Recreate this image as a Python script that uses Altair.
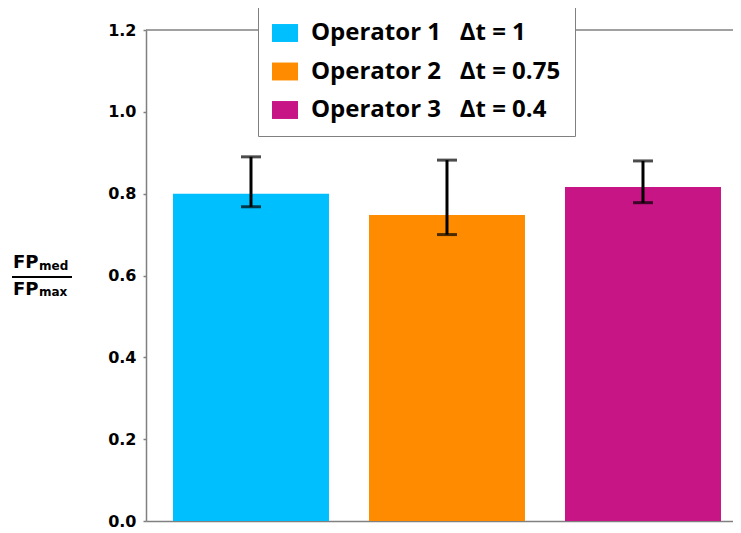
import altair as alt
import pandas as pd

operators = ["Operator 1", "Operator 2", "Operator 3"]
delta_t = ["1", "0.75", "0.4"]
means = [0.800, 0.748, 0.816]
err_low = [0.768, 0.700, 0.778]
err_high = [0.890, 0.882, 0.880]
colors = ["#00BFFF", "#FF8C00", "#C71585"]
y_ticks = [0.0, 0.2, 0.4, 0.6, 0.8, 1.0, 1.2]

NB = "\u00a0"
labels = [f"{o}{NB * 3}\u0394t = {d}" for o, d in zip(operators, delta_t)]
df = pd.DataFrame({"label": labels, "mean": means, "lo": err_low, "hi": err_high})

xenc = alt.X(
    "label:N",
    sort=labels,
    scale=alt.Scale(paddingInner=0.2041, paddingOuter=0.0995, align=0.692),
    axis=alt.Axis(labels=False, ticks=False, title=None, domainColor="#808080", domainWidth=1.5),
)
yscale = alt.Scale(domain=[0, 1.2], nice=False, zero=True)
yaxis = alt.Axis(
    values=y_ticks, format=".1f", title=None, grid=False, tickSize=3, labelPadding=7,
    labelFont="DejaVu Sans", labelFontWeight="bold", labelFontSize=16, labelColor="black",
    domainColor="#808080", tickColor="#808080", domainWidth=1.5, tickWidth=1.5,
)

base = alt.Chart(df)

bars = base.mark_bar().encode(
    x=xenc,
    y=alt.Y("mean:Q", scale=yscale, axis=yaxis),
    color=alt.Color(
        "label:N",
        sort=labels,
        scale=alt.Scale(domain=labels, range=colors),
        legend=alt.Legend(
            orient="none", legendX=112, legendY=-24, title=None,
            symbolType="M-1,-0.69H1V0.69H-1Z", symbolSize=676, symbolStrokeWidth=0,
            symbolOpacity=1, labelFont="Open Sans", labelFontWeight="bold",
            labelFontSize=24, labelColor="black", labelOffset=13, labelLimit=500,
            rowPadding=13.5, padding=14, strokeColor="#808080", fillColor="white",
        ),
    ),
)

err_rule = base.mark_rule(color="black", strokeWidth=3).encode(
    x=xenc, y=alt.Y("lo:Q", title=None), y2="hi:Q"
)
cap_hi = base.mark_tick(color="black", thickness=3, size=20).encode(
    x=xenc, y=alt.Y("hi:Q", title=None)
)
cap_lo = base.mark_tick(color="black", thickness=3, size=20).encode(
    x=xenc, y=alt.Y("lo:Q", title=None)
)

top_line = alt.Chart(pd.DataFrame({"v": [1.2]})).mark_rule(color="#808080", strokeWidth=1.5).encode(
    y=alt.Y("v:Q", title=None)
)

def ann(text, x, y, size):
    return alt.Chart(pd.DataFrame({"t": [text]})).mark_text(
        text=text, align="left", baseline="alphabetic", font="DejaVu Sans",
        fontWeight="bold", fontSize=size, color="black",
    ).encode(x=alt.value(x), y=alt.value(y))

frac_line = alt.Chart(pd.DataFrame({"t": [0]})).mark_rule(color="black", strokeWidth=2).encode(
    x=alt.value(-134), x2=alt.value(-74), y=alt.value(247)
)

chart = alt.layer(
    top_line, bars, err_rule, cap_hi, cap_lo,
    ann("FP", -133, 238, 18), ann("med", -107, 240, 12),
    frac_line,
    ann("FP", -133, 265, 18), ann("max", -107, 266, 12),
).properties(
    width=587, height=491,
    autosize=alt.AutoSizeParams(type="none"),
    padding={"left": 138, "top": 22, "right": 0, "bottom": 12},
).configure_view(stroke=None)

chart.save("out.html", embed_options={"renderer": "svg", "actions": False})
